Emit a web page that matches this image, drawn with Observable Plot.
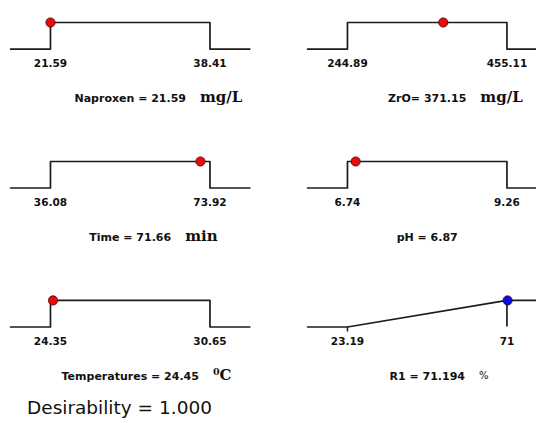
<!DOCTYPE html>
<html>
<head>
<meta charset="utf-8">
<script src="https://cdn.jsdelivr.net/npm/d3@7"></script>
<script src="https://cdn.jsdelivr.net/npm/@observablehq/plot@0.6"></script>
<style>
  body { margin: 0; background: #fff; width: 536px; height: 423px; overflow: hidden; position: relative; }
  #chart svg { display: block; background: #fff; }
  #desir { position: absolute; left: 27px; top: 397px; font: 18.5px "DejaVu Sans", sans-serif; line-height: 22px; color: #111; white-space: nowrap; }
</style>
</head>
<body>
<div id="chart"></div>
<div id="desir"></div>
<script>
// ---- data ----
const factors     = ["Naproxen", "ZrO", "Time", "pH", "Temperatures", "R1"];
const goals       = ["in range", "in range", "in range", "in range", "in range", "maximize"];
const lows        = [21.59, 244.89, 36.08, 6.74, 24.35, 23.19];
const highs       = [38.41, 455.11, 73.92, 9.26, 30.65, 71];
const values      = [21.59, 371.15, 71.66, 6.87, 24.45, 71.194];
const lowLabels   = ["21.59", "244.89", "36.08", "6.74", "24.35", "23.19"];
const highLabels  = ["38.41", "455.11", "73.92", "9.26", "30.65", "71"];
const labels      = ["Naproxen = 21.59", "ZrO= 371.15", "Time = 71.66", "pH = 6.87", "Temperatures = 24.45", "R1 = 71.194"];
const units       = ["mg/L", "mg/L", "min", "", "\u2070C", "%"];
const desirability = 1.000;

// ---- derived tables ----
const panels = factors.map((f, i) => ({
  i, factor: f, goal: goals[i], low: lows[i], high: highs[i], value: values[i],
  lowLabel: lowLabels[i], highLabel: highLabels[i], label: labels[i], unit: units[i],
  col: i % 2, row: Math.floor(i / 2)
}));
const norm = (p, v) => (v - p.low) / (p.high - p.low);
function desir(p, v) {
  if (p.goal === "maximize") return v <= p.low ? 0 : v >= p.high ? 1 : (v - p.low) / (p.high - p.low);
  return (v < p.low || v > p.high) ? 0 : 1;
}
// desirability function outline, evaluated at its break points
const linePts = panels.flatMap(p => {
  const ext = 0.25 * (p.high - p.low);
  const pts = p.goal === "maximize"
    ? [[p.low - ext, 0], [p.low, desir(p, p.low)], [p.high, desir(p, p.high)], [p.high + ext, desir(p, p.high + ext)]]
    : [[p.low - ext, desir(p, p.low - ext)], [p.low, 0], [p.low, desir(p, p.low)], [p.high, desir(p, p.high)], [p.high, 0], [p.high + ext, desir(p, p.high + ext)]];
  return pts.map(([v, d]) => ({panel: p.i, col: p.col, row: p.row, t: norm(p, v), d}));
});
const maxPanels = panels.filter(p => p.goal === "maximize");

const font = "DejaVu Sans";
const labelFont = 'bold 11px "DejaVu Sans"';
const ctx = document.createElement("canvas").getContext("2d");
ctx.font = labelFont;
const measure = s => ctx.measureText(s).width;

const unitMarks = panels.filter(p => p.unit).map(p => Plot.text([p], {
  x: q => norm(q, (q.low + q.high) / 2), y: 0, dy: p.unit === "%" ? 49 : 48,
  dx: measure(p.label) / 2 + 14, text: "unit", fx: "col", fy: "row", textAnchor: "start",
  fontFamily: p.unit === "%" ? font : "DejaVu Serif", fontWeight: p.unit === "%" ? "normal" : "bold",
  fontSize: p.unit === "%" ? 10 : 15, fill: "#111"
}));

const chart = Plot.plot({
  width: 536,
  height: 390,
  marginTop: 22,
  marginBottom: 63.5,
  marginLeft: 10.1,
  marginRight: 13.6,
  x: {domain: [-0.25, 1.1], axis: null},
  y: {domain: [0, 1], axis: null},
  fx: {domain: [0, 1], axis: null, paddingInner: 0.275, paddingOuter: 0, round: false},
  fy: {domain: [0, 1, 2], axis: null, paddingInner: 0.809, paddingOuter: 0, round: false},
  marks: [
    Plot.line(linePts, {x: "t", y: "d", z: "panel", fx: "col", fy: "row", stroke: "#1c1c1c", strokeWidth: 1.7}),
    Plot.ruleX(maxPanels, {x: p => norm(p, p.high), y1: 0, y2: 1, fx: "col", fy: "row", stroke: "#1c1c1c", strokeWidth: 1.7}),
    Plot.ruleX(maxPanels, {x: p => norm(p, p.low), y1: 0, y2: 0, insetBottom: -5, fx: "col", fy: "row", stroke: "#1c1c1c", strokeWidth: 1.5}),
    Plot.dot(panels, {
      x: p => norm(p, p.value), y: p => desir(p, p.value), fx: "col", fy: "row",
      r: 4.6, fill: p => p.goal === "maximize" ? "#0a0ae6" : "#ee0a0a", stroke: "#3a0000", strokeWidth: 0.8
    }),
    Plot.text(panels, {x: p => norm(p, p.low), y: 0, dy: 15, text: "lowLabel", fx: "col", fy: "row",
      fontFamily: font, fontWeight: "bold", fontSize: 10.5, fill: "#111"}),
    Plot.text(panels, {x: p => norm(p, p.high), y: 0, dy: 15, text: "highLabel", fx: "col", fy: "row",
      fontFamily: font, fontWeight: "bold", fontSize: 10.5, fill: "#111"}),
    Plot.text(panels, {x: p => norm(p, (p.low + p.high) / 2), y: 0, dy: 49, text: "label", fx: "col", fy: "row",
      fontFamily: font, fontWeight: "bold", fontSize: 11, fill: "#111"}),
    ...unitMarks
  ]
});
document.getElementById("chart").append(chart);
document.getElementById("desir").textContent = "Desirability = " + desirability.toFixed(3);
</script>
</body>
</html>
